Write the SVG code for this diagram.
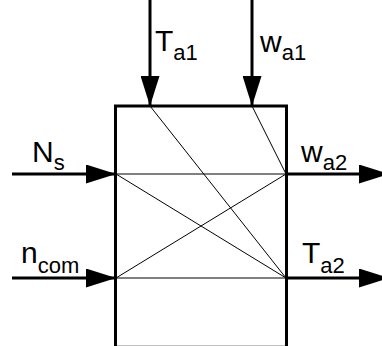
<svg xmlns="http://www.w3.org/2000/svg" width="382" height="346" viewBox="0 0 382 346">
<style>
.thick{stroke:#000;stroke-width:3;fill:none}
.thin{stroke:#000;stroke-width:1;fill:none}
.lbl{font-family:"Liberation Sans",Arial,sans-serif;font-size:30px;fill:#000}
.sub{font-size:22px}
</style>
<defs>
<marker id="ah" markerUnits="userSpaceOnUse" markerWidth="30" markerHeight="19" refX="30" refY="9.5" orient="auto" viewBox="0 0 30 19">
<path d="M0,0 L30,9.5 L0,19 z" fill="#000"/>
</marker>
</defs>
<rect width="382" height="346" fill="#fff"/>
<g id="box">
<path class="thick" d="M115.5,347.2 V106 H286.5 V347.2 Z"/>
</g>
<g id="connectors">
<line class="thick" x1="150" y1="0" x2="150" y2="106" marker-end="url(#ah)"/>
<line class="thick" x1="252" y1="0" x2="252" y2="106" marker-end="url(#ah)"/>
<line class="thick" x1="12" y1="174" x2="116" y2="174" marker-end="url(#ah)"/>
<line class="thick" x1="12" y1="278" x2="116" y2="278" marker-end="url(#ah)"/>
<line class="thick" x1="286" y1="174" x2="389" y2="174" marker-end="url(#ah)"/>
<line class="thick" x1="286" y1="278" x2="389" y2="278" marker-end="url(#ah)"/>
<line class="thin" x1="116" y1="174" x2="286" y2="174"/>
<line class="thin" x1="116" y1="278" x2="286" y2="278"/>
<line class="thin" x1="150" y1="106" x2="286" y2="278"/>
<line class="thin" x1="252" y1="106" x2="286" y2="174"/>
<line class="thin" x1="116" y1="174" x2="286" y2="278"/>
<line class="thin" x1="116" y1="278" x2="286" y2="174"/>
</g>
<g id="label-Ta1"><text class="lbl" x="155" y="51">T<tspan class="sub" dy="9">a1</tspan></text></g>
<g id="label-wa1"><text class="lbl" x="260" y="52">w<tspan class="sub" dy="8">a1</tspan></text></g>
<g id="label-Ns"><text class="lbl" x="32" y="162">N<tspan class="sub" dy="8">s</tspan></text></g>
<g id="label-wa2"><text class="lbl" x="301" y="162">w<tspan class="sub" dy="8">a2</tspan></text></g>
<g id="label-ncom"><text class="lbl" x="21" y="263">n<tspan class="sub" dy="10">com</tspan></text></g>
<g id="label-Ta2"><text class="lbl" x="302" y="263">T<tspan class="sub" dy="10">a2</tspan></text></g>
</svg>
